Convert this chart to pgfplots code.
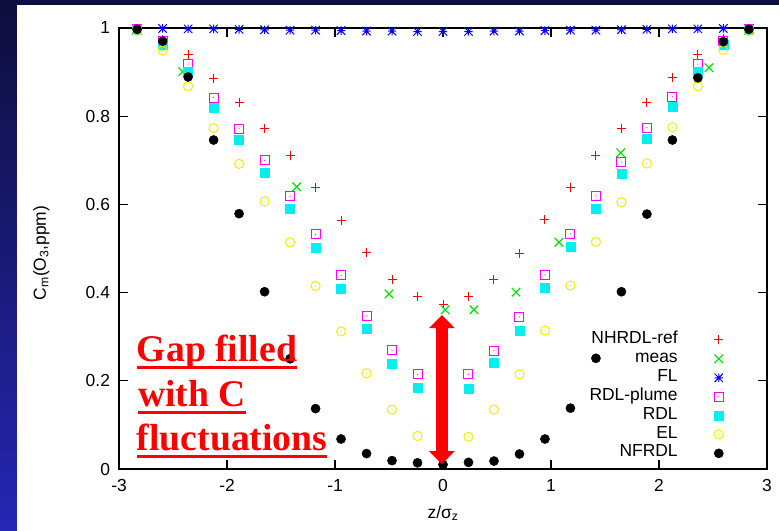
\documentclass[border=0pt]{standalone}
\usepackage{fontspec}
\setmainfont{Liberation Sans}
\newfontfamily\annfont{Liberation Serif}
\usepackage{pgfplots}
\pgfplotsset{compat=1.18}
\usetikzlibrary{arrows.meta}
\definecolor{bgtop}{RGB}{14,14,60}
\definecolor{bgbot}{RGB}{38,38,180}
\definecolor{gpred}{RGB}{255,0,0}
\definecolor{gpgreen}{RGB}{0,225,0}
\definecolor{gpblue}{RGB}{0,0,255}
\definecolor{gpmag}{RGB}{255,0,255}
\definecolor{gpcyan}{RGB}{0,240,240}
\definecolor{gpyellow}{RGB}{240,240,0}
\pgfdeclareplotmark{gpstar}{%
  \pgfpathmoveto{\pgfqpoint{-\pgfplotmarksize}{0pt}}\pgfpathlineto{\pgfqpoint{\pgfplotmarksize}{0pt}}%
  \pgfpathmoveto{\pgfqpoint{0pt}{-\pgfplotmarksize}}\pgfpathlineto{\pgfqpoint{0pt}{\pgfplotmarksize}}%
  \pgfpathmoveto{\pgfqpoint{-\pgfplotmarksize}{-\pgfplotmarksize}}\pgfpathlineto{\pgfqpoint{\pgfplotmarksize}{\pgfplotmarksize}}%
  \pgfpathmoveto{\pgfqpoint{-\pgfplotmarksize}{\pgfplotmarksize}}\pgfpathlineto{\pgfqpoint{\pgfplotmarksize}{-\pgfplotmarksize}}%
  \pgfusepathqstroke}
\pgfdeclareplotmark{sqdot}{%
  \pgfpathrectangle{\pgfqpoint{-\pgfplotmarksize}{-\pgfplotmarksize}}{\pgfqpoint{2\pgfplotmarksize}{2\pgfplotmarksize}}%
  \pgfusepathqstroke
  \pgfpathcircle{\pgfpointorigin}{0.6pt}\pgfusepathqfill}
\pgfdeclareplotmark{circdot}{%
  \pgfpathcircle{\pgfpointorigin}{\pgfplotmarksize}%
  \pgfusepathqstroke
  \pgfpathcircle{\pgfpointorigin}{0.6pt}\pgfusepathqfill}
\newsavebox\ulbox
\newcommand\ul[1]{\sbox\ulbox{#1}\rlap{\rule[-7.3bp]{\wd\ulbox}{3bp}}\usebox\ulbox}
\newcommand\lblfont{\fontsize{17.5}{21}\selectfont}
\begin{document}
\begin{tikzpicture}
\useasboundingbox (0,0) rectangle (779bp,531bp);
\shade[top color=bgtop, bottom color=bgbot] (0,0) rectangle (779bp,531bp);
\fill[white] (17bp,0) rectangle (779bp,526bp);
\begin{axis}[
  at={(119bp,62bp)}, anchor=south west,
  scale only axis, width=648bp, height=441bp,
  xmin=-3, xmax=3, ymin=0, ymax=1,
  axis line style={line width=1.2bp, black},
  tick style={line width=1.2bp, black},
  major tick length=9bp, tick align=inside,
  xtick={-3,-2,-1,0,1,2,3},
  xticklabels={-3,-2,-1,0,1,2,3},
  ytick={0,0.2,0.4,0.6,0.8,1},
  yticklabels={0,0.2,0.4,0.6,0.8,1},
  tick label style={font=\lblfont},
  xticklabel style={yshift=-6.5bp},
  yticklabel style={xshift=-5.5bp},
  xlabel={z/σ\textsubscript{z}},
  ylabel={C\textsubscript{m}(O\textsubscript{3},ppm)},
  label style={font=\lblfont},
  x label style={at={(axis description cs:0.5,-0.1)}, anchor=center},
  y label style={at={(axis description cs:-0.12,0.49)}, anchor=center},
  legend cell align=right, legend plot pos=right,
  legend style={draw=none, fill=none, font=\lblfont,
    at={(rel axis cs:0.933,0.3145)}, anchor=north east,
    inner xsep=0pt, inner ysep=0pt, row sep=0pt,
    nodes={inner sep=0pt, text height=13bp, text depth=5.9bp},
    /tikz/every odd column/.append style={column sep=36.5bp}},
]
\addplot[only marks, color=gpred, mark=+, mark size=4.5bp, line width=1bp] coordinates {
(-2.832,0.998)(-2.596,0.975)(-2.360,0.940)(-2.124,0.886)(-1.888,0.831)(-1.652,0.773)(-1.416,0.710)(-1.180,0.639)(-0.944,0.564)(-0.708,0.491)(-0.472,0.429)(-0.236,0.391)(0,0.373)
(0.236,0.391)(0.472,0.429)(0.708,0.489)(0.944,0.565)(1.180,0.639)(1.416,0.710)(1.652,0.771)(1.888,0.832)(2.124,0.887)(2.360,0.940)(2.596,0.976)(2.832,0.998)};
\addlegendentry{NHRDL-ref}
\addplot[only marks, color=gpgreen, mark=x, mark size=6bp, line width=1.2bp] coordinates {
(-2.41,0.901)(-1.355,0.640)(-0.50,0.397)(0.02,0.361)(0.287,0.361)(0.676,0.401)(1.074,0.514)(1.645,0.717)(2.463,0.910)};
\addlegendentry{meas}
\addplot[only marks, color=gpblue, mark=gpstar, mark size=4.2bp, line width=1bp] coordinates {
(-2.832,0.999)(-2.596,0.999)(-2.360,0.998)(-2.124,0.998)(-1.888,0.997)(-1.652,0.996)(-1.416,0.995)(-1.180,0.995)(-0.944,0.994)(-0.708,0.993)(-0.472,0.993)(-0.236,0.992)(0,0.992)
(0.236,0.992)(0.472,0.993)(0.708,0.993)(0.944,0.994)(1.180,0.995)(1.416,0.995)(1.652,0.996)(1.888,0.997)(2.124,0.998)(2.360,0.998)(2.596,0.999)(2.832,0.999)};
\addlegendentry{FL}
\addplot[only marks, color=gpmag, mark=sqdot, mark size=4.5bp, line width=1bp] coordinates {
(-2.832,0.998)(-2.596,0.971)(-2.360,0.918)(-2.124,0.842)(-1.888,0.772)(-1.652,0.700)(-1.416,0.618)(-1.180,0.532)(-0.944,0.439)(-0.708,0.347)(-0.472,0.269)(-0.236,0.215)(0,0.198)
(0.236,0.215)(0.472,0.268)(0.708,0.345)(0.944,0.440)(1.180,0.533)(1.416,0.619)(1.652,0.696)(1.888,0.774)(2.124,0.844)(2.360,0.918)(2.596,0.971)(2.832,0.998)};
\addlegendentry{RDL-plume}
\addplot[only marks, color=gpcyan, mark=square*, mark size=4.5bp, line width=0.5bp] coordinates {
(-2.832,0.995)(-2.596,0.961)(-2.360,0.901)(-2.124,0.819)(-1.888,0.747)(-1.652,0.671)(-1.416,0.590)(-1.180,0.502)(-0.944,0.408)(-0.708,0.317)(-0.472,0.239)(-0.236,0.184)(0,0.168)
(0.236,0.183)(0.472,0.240)(0.708,0.314)(0.944,0.410)(1.180,0.503)(1.416,0.591)(1.652,0.669)(1.888,0.748)(2.124,0.821)(2.360,0.901)(2.596,0.961)(2.832,0.995)};
\addlegendentry{RDL}
\addplot[only marks, color=gpyellow, mark=circdot, mark size=4.6bp, line width=1bp] coordinates {
(-2.832,0.993)(-2.596,0.949)(-2.360,0.868)(-2.124,0.773)(-1.888,0.692)(-1.652,0.607)(-1.416,0.514)(-1.180,0.415)(-0.944,0.312)(-0.708,0.217)(-0.472,0.135)(-0.236,0.075)(0,0.058)
(0.236,0.073)(0.472,0.135)(0.708,0.215)(0.944,0.314)(1.180,0.416)(1.416,0.515)(1.652,0.605)(1.888,0.693)(2.124,0.775)(2.360,0.868)(2.596,0.950)(2.832,0.993)};
\addlegendentry{EL}
\addplot[only marks, color=black, mark=*, mark size=4.6bp] coordinates {
(-2.832,0.997)(-2.596,0.970)(-2.360,0.889)(-2.124,0.746)(-1.888,0.579)(-1.652,0.402)(-1.416,0.250)(-1.180,0.137)(-0.944,0.068)(-0.708,0.035)(-0.472,0.019)(-0.236,0.014)(0,0.010)
(0.236,0.015)(0.472,0.018)(0.708,0.034)(0.944,0.068)(1.180,0.138)(1.416,0.251)(1.652,0.402)(1.888,0.578)(2.124,0.746)(2.360,0.887)(2.596,0.969)(2.832,0.997)};
\addlegendentry{NFRDL}
\coordinate (arrT) at (axis cs:-0.01,0.349);
\coordinate (arrB) at (axis cs:-0.01,0.011);
\coordinate (t1) at (axis cs:-2.836,0.2433);
\coordinate (t2) at (axis cs:-2.825,0.1413);
\coordinate (t3) at (axis cs:-2.836,0.0415);
\end{axis}
\draw[gpred, line width=12bp, {Triangle[width=25bp,length=13bp]}-{Triangle[width=25bp,length=13bp]}] (arrT) -- (arrB);
\begin{scope}[every node/.style={anchor=base west, inner sep=0pt, text=gpred, font=\annfont\bfseries\fontsize{37.8}{44}\selectfont}]
\node at (t1) {\ul{Gap filled}};
\node at (t2) {\ul{with C}};
\node at (t3) {\ul{fluctuations}};
\end{scope}
\end{tikzpicture}
\end{document}
